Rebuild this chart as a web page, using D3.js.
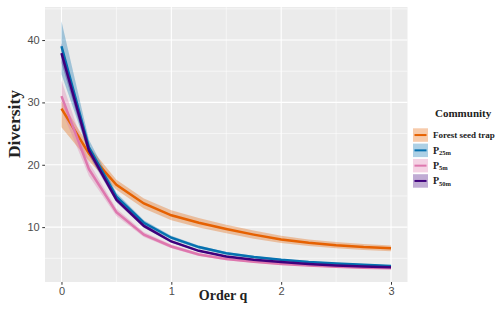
<!DOCTYPE html>
<html>
<head>
<meta charset="utf-8">
<script src="https://cdn.jsdelivr.net/npm/d3@7"></script>
<style>
  body { margin: 0; background: #fff; }
  .axis-title { font-family: "Liberation Serif", "Times New Roman", serif; font-weight: bold; fill: #222; }
  .legend-text { font-family: "Liberation Serif", "Times New Roman", serif; font-weight: bold; fill: #222; }
</style>
</head>
<body>
<div id="chart"></div>
<script>
// Hill number profiles by community
const orderQ = [0, 0.25, 0.5, 0.75, 1, 1.25, 1.5, 1.75, 2, 2.25, 2.5, 2.75, 3];

const forestMean  = [29.0, 21.8, 16.8, 13.8, 11.9, 10.7, 9.7, 8.8, 8.0, 7.5, 7.1, 6.8, 6.6];
const forestLower = [26.0, 20.6, 16.0, 13.0, 11.1, 9.95, 9.0, 8.15, 7.45, 6.98, 6.6, 6.32, 6.15];
const forestUpper = [30.2, 23.0, 17.6, 14.6, 12.7, 11.45, 10.4, 9.45, 8.6, 8.02, 7.6, 7.28, 7.05];

const p25Mean  = [39.0, 22.8, 14.9, 10.7, 8.3, 6.8, 5.8, 5.2, 4.75, 4.4, 4.15, 3.95, 3.78];
const p25Lower = [34.5, 21.8, 14.3, 10.3, 8.0, 6.55, 5.6, 5.0, 4.6, 4.25, 4.0, 3.8, 3.65];
const p25Upper = [43.0, 24.0, 15.5, 11.1, 8.6, 7.05, 6.0, 5.4, 4.9, 4.55, 4.3, 4.1, 3.9];

const p5Mean  = [31.0, 19.3, 12.4, 8.8, 6.9, 5.6, 4.9, 4.45, 4.1, 3.85, 3.65, 3.5, 3.4];
const p5Lower = [28.8, 18.2, 11.8, 8.4, 6.6, 5.35, 4.7, 4.28, 3.95, 3.72, 3.52, 3.38, 3.28];
const p5Upper = [33.5, 20.4, 13.0, 9.2, 7.2, 5.85, 5.1, 4.62, 4.25, 3.98, 3.78, 3.62, 3.52];

const p50Mean  = [37.9, 22.3, 14.4, 10.2, 7.7, 6.2, 5.3, 4.75, 4.4, 4.1, 3.85, 3.68, 3.55];
const p50Lower = [36.3, 21.5, 14.0, 9.9, 7.5, 6.05, 5.15, 4.6, 4.25, 3.98, 3.75, 3.58, 3.45];
const p50Upper = [39.5, 23.1, 14.8, 10.5, 7.9, 6.35, 5.45, 4.9, 4.55, 4.22, 3.95, 3.78, 3.65];

const communities = ["Forest seed trap", "P25m", "P5m", "P50m"];
const colors = ["#e66101", "#0571b0", "#de77ae", "#3f007d"];

const xTicks = [0, 1, 2, 3];
const yTicks = [10, 20, 30, 40];

const series = [
  {name: communities[0], mean: forestMean, lower: forestLower, upper: forestUpper},
  {name: communities[1], mean: p25Mean, lower: p25Lower, upper: p25Upper},
  {name: communities[2], mean: p5Mean, lower: p5Lower, upper: p5Upper},
  {name: communities[3], mean: p50Mean, lower: p50Lower, upper: p50Upper}
].map((s, i) => ({...s, color: colors[i],
  pts: orderQ.map((q, j) => ({q, m: s.mean[j], lo: s.lower[j], hi: s.upper[j]}))}));

const W = 500, H = 312;
const panel = {left: 45, right: 407.5, top: 7, bottom: 282};

const svg = d3.select("#chart").append("svg")
    .attr("width", W)
    .attr("height", H);

const x = d3.scaleLinear().domain([-0.15, 3.15]).range([panel.left, panel.right]);
const y = d3.scaleLinear().domain([1.2, 45.3]).range([panel.bottom, panel.top]);

// panel background
svg.append("rect")
    .attr("x", panel.left)
    .attr("y", panel.top)
    .attr("width", panel.right - panel.left)
    .attr("height", panel.bottom - panel.top)
    .attr("fill", "#ebebeb");

// grid
const grid = svg.append("g");
const minorX = [0.5, 1.5, 2.5], minorY = [5, 15, 25, 35, 45];
grid.selectAll(".mx").data(minorX).enter().append("line")
    .attr("x1", d => x(d)).attr("x2", d => x(d))
    .attr("y1", panel.top).attr("y2", panel.bottom)
    .attr("stroke", "#fff").attr("stroke-width", 0.55);
grid.selectAll(".my").data(minorY).enter().append("line")
    .attr("y1", d => y(d)).attr("y2", d => y(d))
    .attr("x1", panel.left).attr("x2", panel.right)
    .attr("stroke", "#fff").attr("stroke-width", 0.55);
grid.selectAll(".gx").data(xTicks).enter().append("line")
    .attr("x1", d => x(d)).attr("x2", d => x(d))
    .attr("y1", panel.top).attr("y2", panel.bottom)
    .attr("stroke", "#fff").attr("stroke-width", 1.1);
grid.selectAll(".gy").data(yTicks).enter().append("line")
    .attr("y1", d => y(d)).attr("y2", d => y(d))
    .attr("x1", panel.left).attr("x2", panel.right)
    .attr("stroke", "#fff").attr("stroke-width", 1.1);

// ribbons then lines
const area = d3.area()
    .x(d => x(d.q))
    .y0(d => y(d.lo))
    .y1(d => y(d.hi));

const line = d3.line()
    .x(d => x(d.q))
    .y(d => y(d.m));

svg.append("g").selectAll("path")
    .data(series)
    .enter().append("path")
    .attr("d", d => area(d.pts))
    .attr("fill", d => d.color)
    .attr("fill-opacity", 0.33);

svg.append("g").selectAll("path")
    .data(series)
    .enter().append("path")
    .attr("d", d => line(d.pts))
    .attr("fill", "none")
    .attr("stroke", d => d.color)
    .attr("stroke-width", 2.5);

// axes
const xAxis = svg.append("g")
    .attr("transform", `translate(0,${panel.bottom})`)
    .call(d3.axisBottom(x).tickValues(xTicks).tickSize(2.75).tickPadding(2.5).tickFormat(d3.format("d")));
const yAxis = svg.append("g")
    .attr("transform", `translate(${panel.left},0)`)
    .call(d3.axisLeft(y).tickValues(yTicks).tickSize(2.75).tickPadding(2.5).tickFormat(d3.format("d")));
[xAxis, yAxis].forEach(a => {
  a.select(".domain").remove();
  a.attr("font-family", "Liberation Sans, Arial, sans-serif").attr("font-size", 11);
  a.selectAll(".tick line").attr("stroke", "#333").attr("stroke-width", 1);
  a.selectAll(".tick text").attr("fill", "#4d4d4d");
});

svg.append("text")
    .attr("class", "axis-title")
    .attr("text-anchor", "middle")
    .attr("x", 223)
    .attr("y", 300)
    .style("font-size", "14px")
    .text("Order q");

svg.append("text")
    .attr("class", "axis-title")
    .attr("text-anchor", "middle")
    .attr("transform", "translate(20,124) rotate(-90)")
    .style("font-size", "17.5px")
    .text("Diversity");

// legend
const legend = svg.append("g");
legend.append("text")
    .attr("class", "legend-text")
    .attr("x", 435)
    .attr("y", 117)
    .style("font-size", "11px")
    .text("Community");

const keyX = 413, keyY = 128.3, keyW = 15, keyH = 13.5, keyStep = 15.3;
const keys = legend.selectAll(".key")
    .data(series)
    .enter().append("g")
    .attr("transform", (d, i) => `translate(${keyX},${keyY + i * keyStep})`);

keys.append("rect")
    .attr("width", keyW).attr("height", keyH)
    .attr("fill", "#fff");
keys.append("rect")
    .attr("width", keyW).attr("height", keyH)
    .attr("fill", d => d.color)
    .attr("fill-opacity", 0.33);
keys.append("line")
    .attr("x1", 1.5).attr("x2", keyW - 1.5)
    .attr("y1", keyH / 2).attr("y2", keyH / 2)
    .attr("stroke", d => d.color)
    .attr("stroke-width", 2);

const labels = keys.append("text")
    .attr("class", "legend-text")
    .attr("x", 20)
    .attr("y", keyH / 2 + 3.2)
    .style("font-size", "9px");
labels.each(function(d) {
  const t = d3.select(this);
  if (d.name.startsWith("P") && d.name.length < 5) {
    t.append("tspan").text("P").style("font-size", "10px");
    t.append("tspan").text(d.name.slice(1)).style("font-size", "6.5px").attr("dy", 1.5);
  } else {
    t.text(d.name);
  }
});
</script>
</body>
</html>
